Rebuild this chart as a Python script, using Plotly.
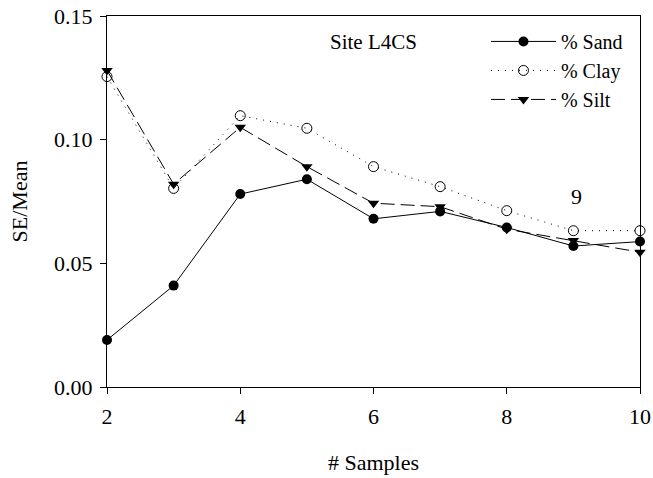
import plotly.graph_objects as go

samples = [2, 3, 4, 5, 6, 7, 8, 9, 10]
sand = [0.019, 0.041, 0.078, 0.084, 0.068, 0.071, 0.0645, 0.057, 0.0588]
clay = [0.1255, 0.0803, 0.1097, 0.1046, 0.0891, 0.081, 0.0713, 0.0632, 0.0632]
silt = [0.128, 0.082, 0.105, 0.0891, 0.0743, 0.0729, 0.0638, 0.0592, 0.0545]

FONT = "Liberation Serif, Times New Roman, serif"

fig = go.Figure()
fig.add_trace(go.Scatter(
    x=samples, y=sand, name="% Sand", mode="lines+markers",
    line=dict(color="black", width=1),
    marker=dict(symbol="circle", size=10, color="black"),
    cliponaxis=False))
fig.add_trace(go.Scatter(
    x=samples, y=clay, name="% Clay", mode="lines+markers",
    line=dict(color="black", width=1, dash="1px,6px"),
    marker=dict(symbol="circle-open", size=10, color="black", line=dict(width=1)),
    cliponaxis=False))
fig.add_trace(go.Scatter(
    x=samples, y=silt, name="% Silt", mode="lines+markers",
    line=dict(color="black", width=1, dash="14px,6px"),
    marker=dict(symbol="triangle-down", size=10, color="black"),
    cliponaxis=False))

fig.update_layout(
    width=653, height=478,
    margin=dict(l=107, r=13, t=16, b=91),
    paper_bgcolor="white", plot_bgcolor="white",
    font=dict(family=FONT, size=22, color="black"),
    showlegend=True,
    legend=dict(x=0.711, y=0.984, xanchor="left", yanchor="top",
                bgcolor="rgba(0,0,0,0)", itemwidth=65,
                font=dict(family=FONT, size=20), tracegroupgap=0),
    xaxis=dict(range=[2, 10], dtick=2, tick0=2, showgrid=False, zeroline=False,
               automargin=False,
               showline=True, linecolor="black", linewidth=1, mirror=True,
               ticks="outside", ticklen=6, tickcolor="black",
               ticklabelstandoff=4,
               title=dict(text="# Samples", standoff=26,
                          font=dict(family=FONT, size=22))),
    yaxis=dict(range=[0, 0.15], dtick=0.05, tick0=0, tickformat=".2f",
               showgrid=False, zeroline=False, automargin=False,
               showline=True, linecolor="black", linewidth=1, mirror=True,
               ticks="outside", ticklen=6, tickcolor="black",
               ticklabelstandoff=3,
               title=dict(text="SE/Mean", standoff=20,
                          font=dict(family=FONT, size=22))),
    annotations=[
        dict(text="Site L4CS", x=0.5, y=0.93, xref="paper", yref="paper",
             xanchor="center", yanchor="middle",
             showarrow=False, font=dict(family=FONT, size=21)),
        dict(text="9", x=9.05, y=0.077, xref="x", yref="y",
             xanchor="center", yanchor="middle",
             showarrow=False, font=dict(family=FONT, size=22)),
    ],
)

fig.write_html("out.html")
